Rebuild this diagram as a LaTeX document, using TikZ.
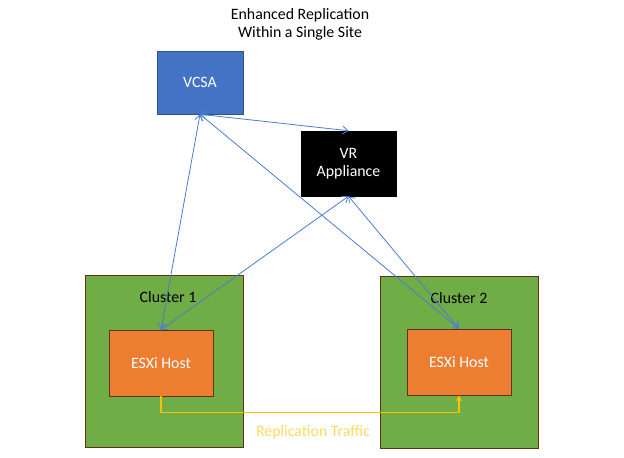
\documentclass[tikz,border=0pt]{standalone}
\usepackage{fontspec}
\setmainfont{Carlito}
\usetikzlibrary{positioning, arrows.meta}
\definecolor{vcblue}{HTML}{4472C4}
\definecolor{vcborder}{HTML}{2F528F}
\definecolor{linkblue}{HTML}{4A7CD0}
\definecolor{clgreen}{HTML}{70AD47}
\definecolor{hostorange}{HTML}{ED7D31}
\definecolor{boxbrown}{HTML}{5E3314}
\definecolor{repline}{HTML}{FFC000}
\definecolor{reptext}{HTML}{FFD966}
\tikzset{
  >={Straight Barb[length=4pt,width=6pt]},
  vcsa/.style={draw=vcborder, fill=vcblue, text=white, minimum width=64.5pt, minimum height=47.25pt, align=center},
  appliance/.style={draw=black, fill=black, text=white, minimum width=71.25pt, minimum height=48.75pt, align=center},
  cluster/.style={draw=boxbrown, fill=clgreen, minimum width=118.5pt, minimum height=129pt},
  host/.style={draw=boxbrown, fill=hostorange, text=white, minimum width=78pt, minimum height=49.5pt, align=center},
  link/.style={draw=linkblue, <->, line width=0.6pt},
  traffic/.style={draw=repline, line width=0.8pt, -{Triangle[length=4pt,width=4pt]}},
}

\begin{document}
\begin{tikzpicture}[x=0.75pt, y=-0.75pt, font=\fontsize{11.9}{13.5}\selectfont]
      \useasboundingbox (0,0) rectangle (624,457);
      \node[align=center] (title) at (300,24) {Enhanced Replication\\Within a Single Site};
      \node[vcsa] (vcsa) at (200,82.5) {VCSA};
      \node[appliance] (vr) at (348.5,163.5) {VR\\Appliance};

      \node[cluster] (cl1) at (164,361) {};
      \node[cluster] (cl2) at (459,362) {};
      \node (cl1lbl) at (168,297) {Cluster 1};
      \node (cl2lbl) at (459,298) {Cluster 2};
      \node[host] (esx1) at (161,363) {ESXi Host};
      \node[host] (esx2) at (459,362) {ESXi Host};

      \draw[link] (vcsa.south) -- (vr.north);
      \draw[link] (vcsa.south) -- (esx1.north);
      \draw[link] (vcsa.south) -- (esx2.north);
      \draw[link] (vr.south) -- (esx1.north);
      \draw[link] (vr.south) -- (esx2.north);

      \draw[traffic] (esx1.south) -- ++(0,16) -| (esx2.south);
      \node[text=reptext] (replbl) at (313,432) {Replication Traffic};
    \end{tikzpicture}
\end{document}
